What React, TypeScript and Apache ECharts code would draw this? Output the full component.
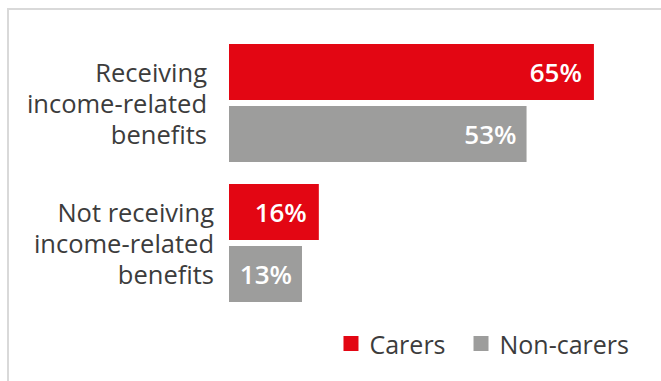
import React, { useEffect, useRef } from "react";
import * as echarts from "echarts";

const categories = ["Receiving\nincome-related\nbenefits", "Not receiving\nincome-related\nbenefits"];
const seriesNames = ["Carers", "Non-carers"];
const carers = [65, 16];
const nonCarers = [53, 13];
const colors = ["#E30613", "#9D9D9C"];

export default function App() {
  const ref = useRef<HTMLDivElement>(null);
  useEffect(() => {
    if (!ref.current) return;
    const chart = echarts.init(ref.current, undefined, { renderer: "svg" });
    const font = "'Open Sans', 'Noto Sans', sans-serif";
    const labelStyle = {
      show: true,
      position: "insideRight",
      formatter: "{c}%",
      color: "#FFFFFF",
      fontWeight: 600,
      fontSize: 26,
      fontFamily: font,
    };
    chart.setOption({
      animation: false,
      textStyle: { fontFamily: font },
      graphic: [
        {
          type: "rect",
          shape: { x: 8, y: 9, width: 700, height: 400 },
          style: { fill: "none", stroke: "#D9D9D9", lineWidth: 2 },
          silent: true,
        },
      ],
      legend: {
        data: seriesNames,
        right: 27,
        top: 326,
        icon: "rect",
        itemWidth: 15,
        itemHeight: 15,
        itemGap: 28,
        textStyle: { fontSize: 25, color: "#3C3C3C", fontFamily: font, padding: [0, 0, 0, 6] },
      },
      grid: { left: 229, top: 33, width: 393, height: 280, containLabel: false },
      xAxis: {
        type: "value",
        min: 0,
        max: 70,
        show: false,
      },
      yAxis: {
        type: "category",
        data: categories,
        inverse: true,
        axisLine: { show: false },
        axisTick: { show: false },
        axisLabel: {
          margin: 15,
          fontSize: 25,
          color: "#3C3C3C",
          align: "right",
          lineHeight: 31,
          fontFamily: font,
          formatter: (v: string, i: number) =>
            v
              .split("\n")
              .map((l) => (i === 0 ? `{a|${l}}` : `{b|${l}}`))
              .join("\n"),
          rich: {
            a: { fontSize: 25.5, color: "#3C3C3C", lineHeight: 31, padding: [0, 7, 0, 0], fontFamily: font },
            b: { fontSize: 25.5, color: "#3C3C3C", lineHeight: 31, fontFamily: font },
          },
        },
      },
      series: [
        {
          name: seriesNames[0],
          type: "bar",
          data: carers,
          itemStyle: { color: colors[0] },
          barGap: "10.7%",
          barCategoryGap: "15.7%",
          label: { ...labelStyle, distance: 12 },
        },
        {
          name: seriesNames[1],
          type: "bar",
          data: nonCarers,
          itemStyle: { color: colors[1] },
          barGap: "10.7%",
          barCategoryGap: "15.7%",
          label: { ...labelStyle, distance: 10 },
        },
      ],
    });
    return () => chart.dispose();
  }, []);
  return (
    <div
      ref={ref}
      style={{ position: "fixed", left: 0, top: 0, width: 661, height: 381, background: "#fff" }}
    />
  );
}
